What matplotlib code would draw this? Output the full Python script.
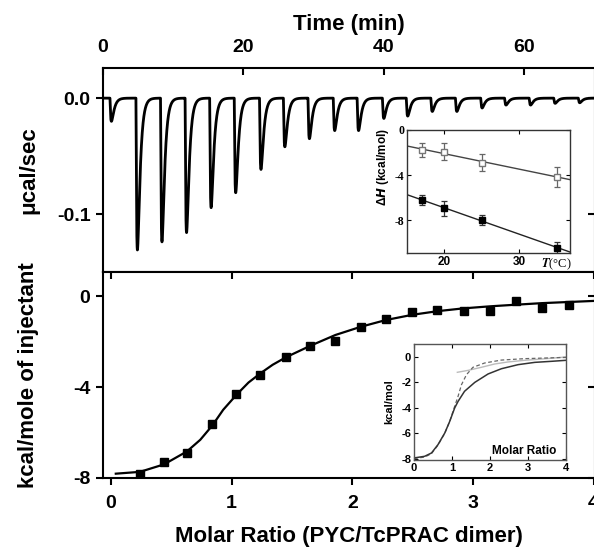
import numpy as np
import matplotlib
matplotlib.use('Agg')
import matplotlib.pyplot as plt

plt.rcParams['font.family'] = ['Liberation Sans', 'DejaVu Sans']
plt.rcParams['font.weight'] = 'bold'
plt.rcParams['axes.labelweight'] = 'bold'
plt.rcParams['axes.unicode_minus'] = False

# raw ITC trace: time of each injection peak (min) and its depth (ucal/sec)
peak_time = [1.2, 4.9, 8.4, 11.9, 15.4, 18.9, 22.5, 25.9, 29.4, 33.0,
             36.4, 40.0, 43.4, 46.9, 50.4, 54.0, 57.4, 60.9, 64.4, 67.9]
peak_depth = [-0.020, -0.131, -0.124, -0.116, -0.0945, -0.0816, -0.0615, -0.042,
              -0.035, -0.028, -0.028, -0.0175, -0.0155, -0.0115, -0.0115, -0.0085,
              -0.006, -0.006, -0.0045, -0.004]

# integrated heats
ratio = [0.241, 0.436, 0.630, 0.837, 1.038, 1.238, 1.448, 1.652, 1.859,
         2.072, 2.279, 2.498, 2.705, 2.922, 3.138, 3.354, 3.574, 3.793]
heat = [-7.82, -7.31, -6.90, -5.63, -4.31, -3.48, -2.66, -2.19, -1.96,
        -1.35, -0.99, -0.69, -0.61, -0.66, -0.64, -0.20, -0.51, -0.37]

# fitted curve
fit_x = [0.04, 0.24, 0.44, 0.63, 0.74, 0.84, 0.93, 1.04, 1.14, 1.24, 1.34, 1.45,
         1.65, 1.86, 2.07, 2.28, 2.50, 2.71, 2.92, 3.14, 3.35, 3.57, 3.79, 4.01]
fit_y = [-7.81, -7.73, -7.40, -6.83, -6.32, -5.69, -5.00, -4.34, -3.80, -3.39, -3.02, -2.69,
         -2.19, -1.71, -1.35, -1.05, -0.82, -0.66, -0.54, -0.45, -0.38, -0.31, -0.26, -0.21]

# inset 1: dH vs temperature
temp = [17, 20, 25, 35]
dh_open = [-1.78, -1.93, -2.90, -4.15]
err_open = [0.62, 0.74, 0.77, 0.89]
dh_fill = [-6.22, -6.96, -8.00, -10.46]
err_fill = [0.44, 0.67, 0.44, 0.52]

# inset 2: simulated curves
sol_x = [0.0, 0.28, 0.46, 0.63, 0.81, 0.94, 1.07, 1.16, 1.33, 1.6, 1.95, 2.3, 2.74, 3.18, 3.61, 4.0]
sol_y = [-7.92, -7.79, -7.53, -6.88, -5.96, -5.05, -4.0, -3.48, -2.69, -1.99, -1.33, -0.92,
         -0.6, -0.42, -0.34, -0.26]
dash_x = [0.0, 0.28, 0.46, 0.63, 0.81, 0.94, 1.07, 1.16, 1.25, 1.38, 1.55, 1.86, 2.3, 2.91, 4.0]
dash_y = [-7.97, -7.85, -7.58, -6.92, -5.98, -5.05, -3.87, -3.08, -2.17, -1.39, -0.81, -0.47,
          -0.24, -0.13, -0.03]
lite_x = [1.14, 1.42, 1.77, 2.12, 2.47, 2.91, 3.35, 4.0]
lite_y = [-1.2, -1.05, -0.81, -0.55, -0.39, -0.26, -0.16, 0.0]

W, H = 594, 550
fig = plt.figure(figsize=(W / 100, H / 100), dpi=100)


def box(l, t, r, b):
    return [l / W, 1 - b / H, (r - l) / W, (b - t) / H]


# ---- top panel: raw heat flow
ax1 = fig.add_axes(box(103, 68, 594.5, 272))
t = np.linspace(0, 70, 7001)
a, b = 0.2, 0.36
t_min = a * np.log(1 + b / a)
f_max = (1 - np.exp(-t_min / a)) * np.exp(-t_min / b)
trace = np.zeros_like(t)
for tp, d in zip(peak_time, peak_depth):
    dt = t - (tp - t_min)
    dt = np.clip(dt, 0, None)
    trace += d * (1 - np.exp(-dt / a)) * np.exp(-dt / b) / f_max
ax1.plot(t, trace, color='black', lw=2.0)
ax1.set_xlim(0, 70)
ax1.set_ylim(-0.15, 0.026)
ax1.xaxis.tick_top()
ax1.xaxis.set_label_position('top')
ax1.set_xticks([0, 20, 40, 60])
ax1.set_yticks([0.0, -0.1])
ax1.set_yticklabels(['0.0', '-0.1'])
ax1.tick_params(axis='x', direction='in', length=5, width=1.5, labelsize=14, pad=9)
ax1.tick_params(axis='y', direction='out', length=5, width=1.5, labelsize=14, pad=4)
ax1.tick_params(axis='y', which='both', right=True)
for tk in ax1.yaxis.get_major_ticks():
    tk.tick2line.set_marker(matplotlib.lines.TICKLEFT)
ax1.set_xlabel('Time (min)', fontsize=16, labelpad=6)
ax1.set_ylabel('\u03bccal/sec', fontsize=16)
ax1.yaxis.set_label_coords(-0.13, 0.5)
for s in ax1.spines.values():
    s.set_linewidth(1.5)

# ---- bottom panel: integrated heats
ax2 = fig.add_axes(box(103, 272, 594.5, 478))
ax2.plot(fit_x, fit_y, color='black', lw=1.6, zorder=2)
ax2.plot(ratio, heat, 's', color='black', ms=6.2, zorder=3)
ax2.set_xlim(-0.066, 4.007)
ax2.set_ylim(-8, 1.06)
ax2.set_xticks([0, 1, 2, 3, 4])
ax2.set_yticks([0, -4, -8])
ax2.tick_params(axis='both', direction='out', length=5, width=1.5, labelsize=14)
ax2.tick_params(axis='x', pad=7)
ax2.tick_params(axis='y', pad=4)
ax2.tick_params(top=True, right=True)
for tk in ax2.xaxis.get_major_ticks():
    tk.tick2line.set_marker(matplotlib.lines.TICKDOWN)
for tk in ax2.yaxis.get_major_ticks():
    tk.tick2line.set_marker(matplotlib.lines.TICKLEFT)
ax2.set_xlabel('Molar Ratio (PYC/TcPRAC dimer)', fontsize=16, labelpad=10)
ax2.set_ylabel('kcal/mole of injectant', fontsize=16)
ax2.yaxis.set_label_coords(-0.13, 0.5)
for s in ax2.spines.values():
    s.set_linewidth(1.5)

# ---- inset 1: dH vs T
ax3 = fig.add_axes(box(407, 130, 570, 253))
x_line = np.array([15.0, 36.8])
for dh, col in [(dh_open, '#444444'), (dh_fill, '#222222')]:
    k, c0 = np.polyfit(temp, dh, 1)
    ax3.plot(x_line, k * x_line + c0, color=col, lw=1.0)
ax3.errorbar(temp, dh_open, yerr=err_open, fmt='s', ms=4.5, mfc='white', mec='#777777',
             ecolor='#666666', elinewidth=0.9, capsize=2.5, capthick=0.9)
ax3.errorbar(temp, dh_fill, yerr=err_fill, fmt='s', ms=4.5, mfc='black', mec='black',
             ecolor='#333333', elinewidth=0.9, capsize=2.5, capthick=0.9)
ax3.set_xlim(15.02, 36.77)
ax3.set_ylim(-10.93, 0)
ax3.set_xticks([20, 30])
ax3.set_yticks([0, -4, -8])
ax3.tick_params(direction='in', length=3, width=0.8, labelsize=8.5, pad=2,
                top=True, right=True)
for lb in ax3.get_yticklabels():
    lb.set_family('Liberation Serif')
ax3.text(35, -0.03, r'$T$(°C)', transform=ax3.get_xaxis_transform(), ha='center', va='top',
         family='Liberation Serif', math_fontfamily='stix', weight='normal', fontsize=9)
ax3.set_ylabel('\u0394$\\it{H}$ (kcal/mol)', fontsize=8.5)
ax3.yaxis.set_label_coords(-0.1, 0.7)
for s in ax3.spines.values():
    s.set_linewidth(1.0)
    s.set_color('#333333')

# ---- inset 2: simulated isotherms
ax4 = fig.add_axes(box(414, 344, 566, 460))
ax4.plot(lite_x, lite_y, color='#bbbbbb', lw=1.0)
ax4.plot(dash_x, dash_y, color='#666666', lw=0.9, ls=(0, (3, 2)))
ax4.plot(sol_x, sol_y, color='#333333', lw=1.1)
ax4.set_xlim(0, 4)
ax4.set_ylim(-8.08, 1.02)
ax4.set_xticks([0, 1, 2, 3, 4])
ax4.set_yticks([0, -2, -4, -6, -8])
ax4.tick_params(direction='in', length=3, width=0.8, labelsize=8, pad=2,
                top=True, right=True)
ax4.set_ylabel('kcal/mol', fontsize=8, labelpad=5)
ax4.text(0.724, 0.08, 'Molar Ratio', transform=ax4.transAxes, ha='center', va='center',
         fontsize=8.5)
for s in ax4.spines.values():
    s.set_linewidth(1.0)
    s.set_color('#555555')

fig.savefig('out.png', dpi=100)
